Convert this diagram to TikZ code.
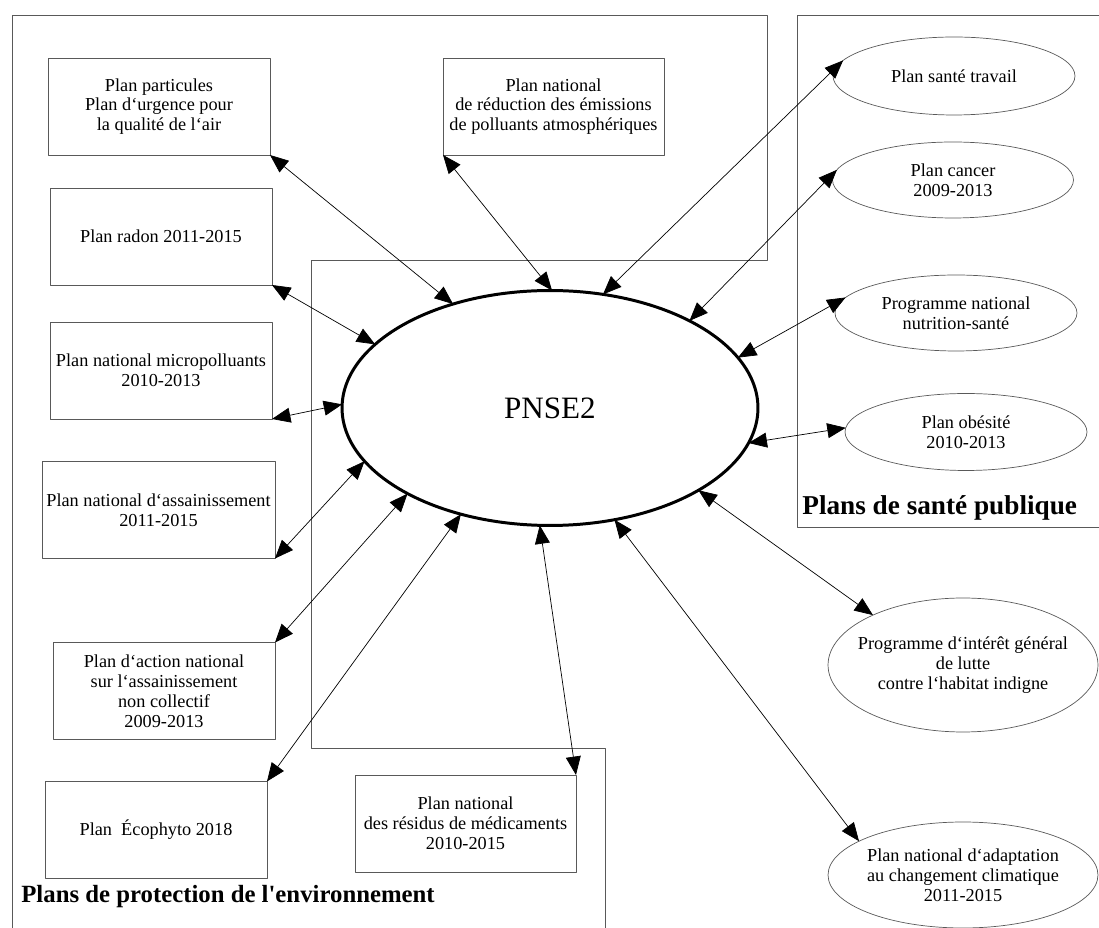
\documentclass[tikz,border=0pt]{standalone}
\usepackage{fontspec}
\setmainfont{Liberation Serif}
\usetikzlibrary{shapes.geometric,arrows.meta}
\tikzset{
  plan/.style={draw=black!65,rectangle,minimum width=4.44cm,minimum height=1.94cm,align=center,inner sep=2pt,outer sep=0pt},
  sante/.style={draw=black!65,ellipse,minimum width=4.84cm,minimum height=1.54cm,inner sep=0pt,outer sep=0pt},
  txt/.style={align=center,inner sep=0pt}
}
\begin{document}
\begin{tikzpicture}[x=0.02cm,y=-0.02cm,>={Triangle[length=10.5pt,width=8.5pt]},line join=round,font=\fontsize{10.4}{11.3}\selectfont]
\useasboundingbox (0,0) rectangle (1099,928);
% cadres
\draw[black!65] (12,928)--(12,15)--(767,15)--(767,260)--(311,260)--(311,748)--(605,748)--(605,928);
\draw[black!65] (1099,15)--(797,15)--(797,527)--(1099,527);
\node[anchor=base west,inner sep=0pt,font=\fontsize{14.1}{16}\selectfont\bfseries] (tenv) at (21,902) {Plans de protection de l\textquotesingle environnement};
\node[anchor=base west,inner sep=0pt,font=\fontsize{15.5}{18}\selectfont\bfseries] (tsan) at (802,515) {Plans de santé publique};
% PNSE2
\node[ellipse,draw,line width=1.7pt,minimum width=8.32cm,minimum height=4.7cm,inner sep=0pt,outer sep=0pt,font=\fontsize{17.7}{20}\selectfont] (pnse) at (550,408) {PNSE2};
% plans environnement
\node[plan] (part) at (159,106.5) {Plan particules\\Plan d‘urgence pour\\la qualité de l‘air};
\node[plan] (radon) at (161,236.5) {Plan radon 2011-2015};
\node[plan] (micro) at (161,370.5) {Plan national micropolluants\\2010-2013};
\node[plan,minimum width=4.66cm] (assain) at (158.5,510) {Plan national d‘assainissement\\2011-2015};
\node[plan] (action) at (164,691) {Plan d‘action national\\sur l‘assainissement\\non collectif\\2009-2013};
\node[plan] (ecophyto) at (156,830) {Plan~ Écophyto 2018};
\node[plan,minimum width=4.42cm] (emis) at (553.5,106.5) {Plan national\\de réduction des émissions\\de polluants atmosphériques};
\node[plan,minimum width=4.42cm] (medic) at (465.5,823.5) {Plan national\\des résidus de médicaments\\2010-2015};
% plans sante
\node[sante,minimum height=1.56cm,label={[txt]center:Plan santé travail}] (trav) at (954,76) {};
\node[sante,minimum width=4.82cm,minimum height=1.52cm,label={[txt]center:Plan cancer\\2009-2013}] (cancer) at (953,180) {};
\node[sante,minimum height=1.52cm,label={[txt]center:Programme national\\nutrition-santé}] (nutri) at (956,313) {};
\node[sante,label={[txt]center:Plan obésité\\2010-2013}] (obes) at (966,432) {};
\node[sante,minimum width=5.4cm,minimum height=2.68cm,label={[txt]center:Programme d‘intérêt général\\de lutte\\contre l‘habitat indigne}] (habitat) at (963,665) {};
\node[sante,minimum width=5.4cm,minimum height=2.12cm,label={[txt]center:Plan national d‘adaptation\\au changement climatique\\2011-2015}] (adapt) at (963,875) {};
% liens
\foreach \a/\b in {part.south east/133,radon.south east/160,micro.south east/179,assain.south east/196,action.north east/211,ecophyto.north east/230,medic.north east/265,emis.south west/89}
  \draw[<->] (\a) -- (pnse.\b);
\foreach \a/\b in {65/trav.172,32/cancer.175,15/nutri.172,350/obes.178,331/habitat.151,300/adapt.162}
  \draw[<->] (pnse.\a) -- (\b);
\end{tikzpicture}
\end{document}
